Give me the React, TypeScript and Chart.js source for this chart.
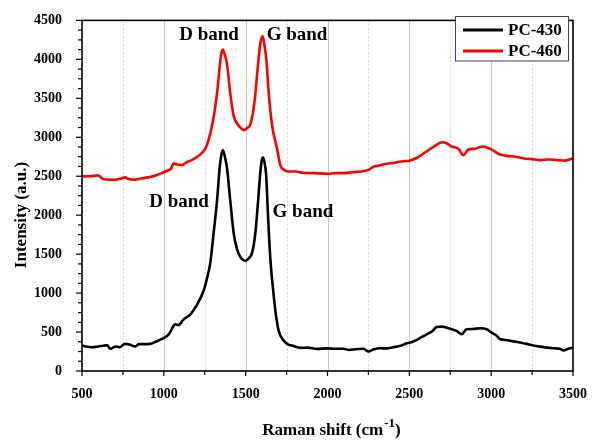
import React, { useEffect, useRef } from "react";
import { Chart, registerables } from "chart.js";

Chart.register(...registerables);

// ---- Data ----
const seriesNames = ["PC-430", "PC-460"];

const pc430X = [500, 530, 560, 600, 630, 655, 672, 690, 705, 730, 763, 790, 824, 850, 880, 916, 957, 998, 1030, 1070, 1090, 1120, 1161, 1202, 1243, 1263, 1284, 1304, 1325, 1341, 1352, 1361, 1372, 1386, 1406, 1427, 1445, 1465, 1485, 1502, 1520, 1539, 1559, 1576, 1590, 1598, 1606, 1615, 1625, 1637, 1651, 1667, 1682, 1702, 1733, 1760, 1784, 1835, 1880, 1937, 2000, 2050, 2100, 2130, 2170, 2220, 2251, 2280, 2320, 2360, 2400, 2440, 2484, 2520, 2555, 2606, 2640, 2667, 2700, 2728, 2760, 2789, 2820, 2850, 2890, 2932, 2973, 3003, 3030, 3054, 3100, 3136, 3190, 3238, 3299, 3340, 3381, 3420, 3442, 3470, 3500];
const pc430Y = [330, 310, 305, 315, 325, 330, 285, 300, 315, 305, 348, 340, 315, 345, 345, 348, 381, 422, 470, 598, 589, 660, 723, 848, 1030, 1182, 1391, 1767, 2184, 2603, 2780, 2832, 2760, 2603, 2184, 1767, 1580, 1470, 1425, 1415, 1450, 1516, 1767, 2184, 2560, 2700, 2740, 2680, 2519, 1976, 1432, 1056, 764, 514, 388, 340, 326, 297, 300, 284, 290, 285, 285, 270, 280, 285, 250, 275, 292, 290, 305, 320, 355, 375, 410, 470, 510, 564, 570, 556, 535, 514, 473, 535, 540, 548, 535, 493, 460, 410, 395, 380, 360, 338, 313, 300, 292, 285, 263, 285, 300];

const pc460X = [500, 540, 575, 600, 625, 661, 700, 740, 763, 790, 824, 860, 906, 950, 988, 1020, 1045, 1059, 1080, 1110, 1140, 1171, 1210, 1253, 1275, 1294, 1310, 1325, 1345, 1353, 1361, 1372, 1386, 1406, 1427, 1451, 1470, 1488, 1510, 1529, 1553, 1574, 1590, 1604, 1615, 1627, 1641, 1662, 1692, 1712, 1740, 1760, 1804, 1850, 1916, 2000, 2050, 2100, 2150, 2200, 2250, 2280, 2320, 2360, 2400, 2450, 2500, 2550, 2600, 2650, 2700, 2730, 2760, 2800, 2830, 2860, 2900, 2950, 3000, 3050, 3100, 3150, 3200, 3250, 3300, 3350, 3400, 3450, 3500];
const pc460Y = [2497, 2500, 2505, 2510, 2470, 2456, 2455, 2470, 2485, 2460, 2456, 2470, 2485, 2510, 2540, 2570, 2600, 2665, 2650, 2644, 2680, 2707, 2760, 2853, 2980, 3145, 3330, 3563, 3981, 4090, 4127, 4060, 3939, 3563, 3271, 3167, 3120, 3095, 3120, 3167, 3438, 3897, 4211, 4295, 4180, 3981, 3563, 3145, 2853, 2640, 2575, 2560, 2560, 2545, 2540, 2531, 2540, 2540, 2550, 2561, 2581, 2620, 2640, 2660, 2670, 2690, 2700, 2740, 2811, 2880, 2936, 2920, 2880, 2853, 2770, 2840, 2853, 2882, 2845, 2782, 2761, 2750, 2728, 2720, 2707, 2715, 2707, 2700, 2728];

const xTickMin = 500;
const xTickMax = 3500;
const yTickMin = 0;
const yTickMax = 4500;

// annotations
const annotTexts = ["D band", "G band", "D band", "G band"];
const annotX = [1276, 1814, 1093, 1850];
const annotY = [4312, 4312, 2165, 2040];

const xTitle = "Raman shift (cm";
const xTitleSup = "-1";
const xTitleEnd = ")";
const yTitle = "Intensity (a.u.)";

const FONT = "'Liberation Serif', 'Times New Roman', serif";

const overlay = {
  id: "overlay",
  beforeDatasetsDraw(chart: any) {
    const { ctx, chartArea } = chart;
    const xs = chart.scales.x;
    ctx.save();
    for (let v = 750; v < 3500; v += 250) {
      const px = Math.round(xs.getPixelForValue(v)) + 0.5;
      ctx.beginPath();
      if (v % 500 === 0) {
        ctx.setLineDash([]);
        ctx.strokeStyle = "#c8c8c8";
      } else {
        ctx.setLineDash([2, 2]);
        ctx.strokeStyle = "#d6d6d6";
      }
      ctx.lineWidth = 1;
      ctx.moveTo(px, chartArea.top);
      ctx.lineTo(px, chartArea.bottom);
      ctx.stroke();
    }
    ctx.restore();
  },
  afterDatasetsDraw(chart: any) {
    const { ctx, chartArea } = chart;
    const xs = chart.scales.x;
    const ys = chart.scales.y;
    const { left, right, top, bottom } = chartArea;
    ctx.save();
    ctx.setLineDash([]);
    // frame
    ctx.strokeStyle = "#000";
    ctx.lineWidth = 1.6;
    ctx.strokeRect(left, top, right - left, bottom - top);
    // y ticks
    ctx.lineWidth = 1.2;
    for (let v = yTickMin; v <= yTickMax; v += 125) {
      const py = ys.getPixelForValue(v);
      const len = v % 500 === 0 ? 6 : 4;
      ctx.beginPath();
      ctx.moveTo(left - len, py);
      ctx.lineTo(left, py);
      ctx.stroke();
    }
    // x ticks
    for (let v = xTickMin; v <= xTickMax; v += 250) {
      const px = xs.getPixelForValue(v);
      const len = v % 500 === 0 ? 5 : 4;
      ctx.beginPath();
      ctx.moveTo(px, bottom);
      ctx.lineTo(px, bottom + len);
      ctx.stroke();
    }
    // annotations
    ctx.font = `bold 19px ${FONT}`;
    ctx.textAlign = "center";
    ctx.textBaseline = "middle";
    ctx.fillStyle = "#000";
    for (let i = 0; i < annotTexts.length; i++) {
      ctx.fillText(annotTexts[i], xs.getPixelForValue(annotX[i]), ys.getPixelForValue(annotY[i]));
    }
    // legend
    const lx = 455.5, ly = 16.5, lw = 113, lh = 44.5;
    ctx.fillStyle = "#fff";
    ctx.fillRect(lx, ly, lw, lh);
    ctx.strokeStyle = "#444";
    ctx.lineWidth = 1;
    ctx.strokeRect(lx, ly, lw, lh);
    const colors = ["#000000", "#ff0000"];
    const rows = [30, 51];
    ctx.font = `bold 17px ${FONT}`;
    ctx.textAlign = "left";
    ctx.textBaseline = "middle";
    for (let i = 0; i < seriesNames.length; i++) {
      ctx.strokeStyle = colors[i];
      ctx.lineWidth = 3;
      ctx.beginPath();
      ctx.moveTo(463, rows[i]);
      ctx.lineTo(503, rows[i]);
      ctx.stroke();
      ctx.fillStyle = "#000";
      ctx.fillText(seriesNames[i], 508, rows[i] + 1);
    }
    // x title
    ctx.fillStyle = "#000";
    ctx.textBaseline = "alphabetic";
    ctx.font = `bold 17px ${FONT}`;
    const w1 = ctx.measureText(xTitle).width;
    const w3 = ctx.measureText(xTitleEnd).width;
    ctx.font = `bold 13px ${FONT}`;
    const w2 = ctx.measureText(xTitleSup).width;
    const total = w1 + w2 + w3 + 1;
    let sx = 331.5 - total / 2;
    ctx.font = `bold 17px ${FONT}`;
    ctx.fillText(xTitle, sx, 435);
    sx += w1 + 1;
    ctx.font = `bold 13px ${FONT}`;
    ctx.fillText(xTitleSup, sx, 427);
    sx += w2;
    ctx.font = `bold 17px ${FONT}`;
    ctx.fillText(xTitleEnd, sx, 435);
    // y title
    ctx.translate(21.5, 215);
    ctx.rotate(-Math.PI / 2);
    ctx.textAlign = "center";
    ctx.textBaseline = "middle";
    ctx.font = `bold 17px ${FONT}`;
    ctx.fillText(yTitle, 0, 0);
    ctx.restore();
  },
};

export default function App() {
  const ref = useRef<HTMLCanvasElement | null>(null);
  useEffect(() => {
    document.body.style.margin = "0";
    const canvas = ref.current!;
    const chart = new Chart(canvas, {
      type: "line",
      data: {
        datasets: [
          {
            label: seriesNames[0],
            data: pc430X.map((x, i) => ({ x, y: pc430Y[i] })),
            borderColor: "#000000",
            borderWidth: 2.6,
            pointRadius: 0,
            cubicInterpolationMode: "monotone",
            fill: false,
          },
          {
            label: seriesNames[1],
            data: pc460X.map((x, i) => ({ x, y: pc460Y[i] })),
            borderColor: "#ff0000",
            borderWidth: 2.6,
            pointRadius: 0,
            cubicInterpolationMode: "monotone",
            fill: false,
          },
        ],
      },
      options: {
        animation: false,
        responsive: false,
        maintainAspectRatio: false,
        devicePixelRatio: 1,
        layout: { padding: { top: 12, right: 26, left: 0, bottom: 0 } },
        plugins: {
          legend: { display: false },
          tooltip: { enabled: false },
        },
        scales: {
          x: {
            type: "linear",
            min: xTickMin,
            max: xTickMax,
            grid: { display: false },
            border: { display: false },
            ticks: {
              stepSize: 500,
              color: "#000",
              padding: 7,
              maxRotation: 0,
              callback: (v: any) => String(v),
              font: { family: FONT, size: 14, weight: "bold" },
            },
            afterFit: (s: any) => {
              s.height = 70;
            },
          },
          y: {
            type: "linear",
            min: yTickMin,
            max: yTickMax,
            grid: { display: false },
            border: { display: false },
            ticks: {
              stepSize: 500,
              color: "#000",
              padding: 12,
              callback: (v: any) => String(v),
              font: { family: FONT, size: 14, weight: "bold" },
            },
            afterFit: (s: any) => {
              s.width = 82;
            },
          },
        },
      },
      plugins: [overlay],
    });
    return () => chart.destroy();
  }, []);
  return <canvas ref={ref} width={599} height={441} style={{ display: "block" }} />;
}
